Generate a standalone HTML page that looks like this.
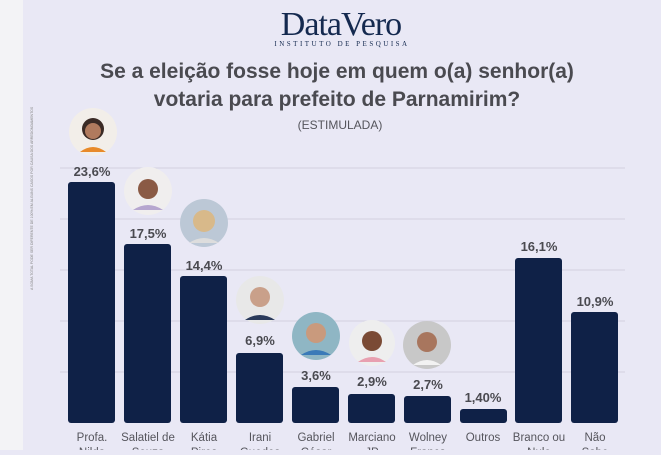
<!DOCTYPE html><html><head><meta charset="utf-8"><style>body{margin:0;width:661px;height:450px;overflow:hidden;background:#e9e8f5}</style></head><body>
<svg width="661" height="450" xmlns="http://www.w3.org/2000/svg" font-family="Liberation Sans, sans-serif">
<rect width="661" height="450" fill="#e9e8f5"/>
<rect width="23" height="450" fill="#f3f3f6"/>
<text x="341" y="35" text-anchor="middle" font-family="Liberation Serif, serif" font-size="34" fill="#14294f" letter-spacing="-1">DataVero</text>
<text x="342" y="46" text-anchor="middle" font-family="Liberation Serif, serif" font-size="7" fill="#14294f" letter-spacing="2.5">INSTITUTO DE PESQUISA</text>
<text x="337" y="78" text-anchor="middle" font-size="21" font-weight="bold" fill="#4a4a50">Se a eleição fosse hoje em quem o(a) senhor(a)</text>
<text x="337" y="106" text-anchor="middle" font-size="21" font-weight="bold" fill="#4a4a50">votaria para prefeito de Parnamirim?</text>
<text x="340" y="129" text-anchor="middle" font-size="12" fill="#55555c">(ESTIMULADA)</text>
<text transform="translate(33,290) rotate(-90)" font-size="3.5" fill="#888">A SOMA TOTAL PODE SER DIFERENTE DE 100% EM ALGUNS CASOS POR CAUSA DOS ARREDONDAMENTOS</text>
<g stroke="#d2d1e0" stroke-width="1"><line x1="60" x2="625" y1="168" y2="168"/><line x1="60" x2="625" y1="219" y2="219"/><line x1="60" x2="625" y1="270" y2="270"/><line x1="60" x2="625" y1="321" y2="321"/><line x1="60" x2="625" y1="372" y2="372"/></g>
<g fill="#0f2147">
<rect x="68" y="182" width="47" height="241" rx="3"/><rect x="124" y="244" width="47" height="179" rx="3"/><rect x="180" y="276" width="47" height="147" rx="3"/><rect x="236" y="353" width="47" height="70" rx="3"/><rect x="292" y="387" width="47" height="36" rx="3"/><rect x="348" y="394" width="47" height="29" rx="3"/><rect x="404" y="396" width="47" height="27" rx="3"/><rect x="460" y="409" width="47" height="14" rx="3"/><rect x="515" y="258" width="47" height="165" rx="3"/><rect x="571" y="312" width="47" height="111" rx="3"/>
</g>
<g font-size="13" font-weight="bold" fill="#4a4a50" text-anchor="middle">
<text x="92" y="176">23,6%</text><text x="148" y="238">17,5%</text><text x="204" y="270">14,4%</text><text x="260" y="345">6,9%</text><text x="316" y="380">3,6%</text><text x="372" y="386">2,9%</text><text x="428" y="389">2,7%</text><text x="483" y="402">1,40%</text><text x="539" y="251">16,1%</text><text x="595" y="306">10,9%</text>
</g>
<g>
<circle cx="93" cy="132" r="24" fill="#f2eee9"/><circle cx="93" cy="129" r="11" fill="#3a2a25"/><circle cx="93" cy="131" r="8" fill="#b07a5e"/><path d="M80 152 q13 -10 26 0z" fill="#e88a2a"/>
<circle cx="148" cy="191" r="24" fill="#f0eeee"/><circle cx="148" cy="189" r="10" fill="#8a5a45"/><path d="M133 210 q15 -10 30 0z" fill="#b6a6cf"/>
<circle cx="204" cy="223" r="24" fill="#bcc8d6"/><circle cx="204" cy="221" r="11" fill="#d8b98a"/><path d="M189 243 q15 -10 30 0z" fill="#ddd"/>
<circle cx="260" cy="300" r="24" fill="#e8e8e8"/><circle cx="260" cy="297" r="10" fill="#c9a08a"/><path d="M245 320 q15 -10 30 0z" fill="#2a3a5a"/>
<circle cx="316" cy="336" r="24" fill="#8fb6c4"/><circle cx="316" cy="333" r="10" fill="#c99a7d"/><path d="M301 355 q15 -10 30 0z" fill="#3a7ab8"/>
<circle cx="372" cy="343" r="23" fill="#eeeeee"/><circle cx="372" cy="341" r="10" fill="#7a4a35"/><path d="M358 362 q14 -10 28 0z" fill="#e8a0b0"/>
<circle cx="427" cy="345" r="24" fill="#c8c8c8"/><circle cx="427" cy="342" r="10" fill="#a8765e"/><path d="M413 365 q14 -10 28 0z" fill="#f2f2f2"/>
</g>
<g font-size="11.5" fill="#55555c" text-anchor="middle">
<text x="92" y="441">Profa.</text><text x="92" y="456">Nilda</text>
<text x="148" y="441">Salatiel de</text><text x="148" y="456">Souza</text>
<text x="204" y="441">Kátia</text><text x="204" y="456">Pires</text>
<text x="260" y="441">Irani</text><text x="260" y="456">Guedes</text>
<text x="316" y="441">Gabriel</text><text x="316" y="456">César</text>
<text x="372" y="441">Marciano</text><text x="372" y="456">JP</text>
<text x="428" y="441">Wolney</text><text x="428" y="456">França</text>
<text x="483" y="441">Outros</text>
<text x="539" y="441">Branco ou</text><text x="539" y="456">Nulo</text>
<text x="595" y="441">Não</text><text x="595" y="456">Sabe</text>
</g>
</svg></body></html>
